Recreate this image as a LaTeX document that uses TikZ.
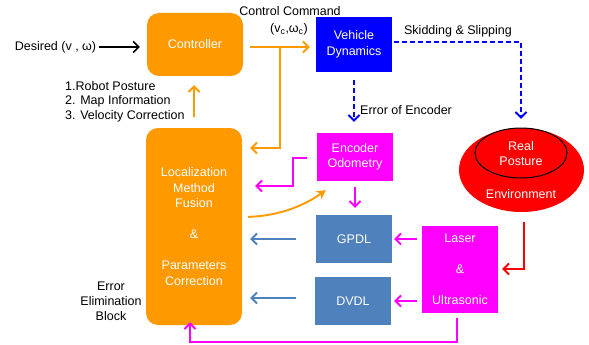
\documentclass[tikz,border=0pt]{standalone}
\usepackage{fontspec}
\setmainfont{Liberation Sans}
\usetikzlibrary{arrows.meta,shapes.geometric}
\definecolor{myorange}{RGB}{255,153,0}
\definecolor{myblue}{RGB}{0,0,255}
\definecolor{mymag}{RGB}{255,0,255}
\definecolor{mysteel}{RGB}{79,129,189}
\definecolor{myred}{RGB}{255,0,0}
\begin{document}
\begin{tikzpicture}[x=1pt,y=-1pt,
  txt/.style={font=\fontsize{12.5}{15.5}\selectfont, align=center, inner sep=0pt},
  box/.style={txt, text=white, minimum width=76pt, minimum height=48pt},
  rbox/.style={box, fill=myorange, rounded corners=12pt, minimum width=96pt},
  arr/.style={-{Straight Barb[length=5.5pt,width=11pt]}, line width=1.9pt},
  dsh/.style={dash pattern=on 5pt off 3pt}
  ]
\useasboundingbox (0,0) rectangle (589,345);

% boxes
\node[rbox, minimum height=63pt] (ctrl) at (195,44.5) {Controller};
\node[box, fill=myblue, minimum height=55pt] (vd) at (354,44.5) {Vehicle\\Dynamics};
\node[box, fill=mymag] (enc) at (355,157) {Encoder\\Odometry};
\node[box, fill=mysteel] (gpdl) at (354,239) {GPDL};
\node[box, fill=mysteel] (dvdl) at (353,301) {DVDL};
\node[box, fill=mymag, minimum height=87pt] (laser) at (460,269.5) {Laser\\ \mbox{}\\ \&\\ \mbox{}\\ Ultrasonic};
\node[rbox, minimum height=197pt] (loc) at (194,226.5) {Localization\\Method\\Fusion\\ \mbox{}\\ \&\\ \mbox{}\\Parameters\\Correction};

% environment
\node[ellipse, fill=myred, minimum width=125pt, minimum height=84pt, inner sep=0pt] (env) at (521.5,170) {};
\node[ellipse, draw=black, line width=1pt, minimum width=92pt, minimum height=50pt, inner sep=0pt] (rp) at (521,153) {};
\node[txt, text=white] (rptxt) at (521,153.5) {Real\\Posture};
\node[txt, text=white] (envtxt) at (521,194) {Environment};

% labels
\node[txt] (desired) at (55.5,47) {Desired (v , ω)};
\node[txt] (cc) at (290,11) {Control Command};
\node[txt] (vw) at (289,29) {(v\textsubscript{c},ω\textsubscript{c})};
\node[txt] (skid) at (458,31) {Skidding \& Slipping};
\node[txt, anchor=west] (eoe) at (360,110) {Error of Encoder};
\node[txt, font=\fontsize{12.5}{14.5}\selectfont, align=left, anchor=west] (info) at (65,101.5) {1.Robot Posture\\2. Map Information\\3. Velocity Correction};
\node[txt, font=\fontsize{12.5}{15}\selectfont] (eeb) at (111,301) {Error\\Elimination\\Block};

% coordinates
\coordinate (c1) at (280,47);
\coordinate (c2) at (280,148);
\coordinate (s1) at (521,42);
\coordinate (e1) at (293,158);
\coordinate (e2) at (293,186);
\coordinate (r1) at (524,269);
\coordinate (m1) at (457,342);
\coordinate (m2) at (190,342);
\coordinate (o1) at (248,217);
\coordinate (d1) at (300,298);

% connectors
\draw[arr, black, line width=1.6pt, shorten <=3pt, shorten >=7pt] (desired.east) -- (desired.east -| ctrl.west);
\draw[arr, myorange, shorten <=7pt, shorten >=6pt] (ctrl.east |- c1) -- (vd.west |- c1);
\draw[arr, myorange, shorten >=8pt] (c1) -- (c2) -- (loc.east |- c2);
\draw[arr, myorange, shorten <=11pt, shorten >=9pt] (loc.north) -- (loc.north |- ctrl.south);
\draw[arr, myblue, dsh, shorten <=2pt, shorten >=9pt] (vd.east |- s1) -- (s1) -- (env.north -| s1);
\draw[arr, myblue, dsh, shorten <=8pt, shorten >=11pt] (vd.south) -- (vd.south |- enc.north);
\draw[arr, mymag, shorten <=6pt, shorten >=7pt] (enc.south) -- (enc.south |- gpdl.north);
\draw[arr, mymag, shorten <=5pt, shorten >=2pt] (laser.west |- gpdl.east) -- (gpdl.east);
\draw[arr, mymag, shorten <=5pt, shorten >=3pt] (laser.west |- dvdl.east) -- (dvdl.east);
\draw[arr, mysteel, shorten <=20pt, shorten >=8pt] (gpdl.west) -- (loc.east |- gpdl.west);
\draw[arr, mysteel, shorten <=19pt, shorten >=8pt] (dvdl.west |- d1) -- (loc.east |- d1);
\draw[arr, myred, shorten <=10pt, shorten >=4pt] (env.south -| r1) -- (r1) -- (laser.east |- r1);
\draw[arr, mymag, shorten <=5pt, shorten >=-3pt] (laser.south -| m1) -- (m1) -- (m2) -- (loc.south -| m2);
\draw[arr, mymag, shorten <=10pt, shorten >=13pt] (enc.west |- e1) -- (e1) -- (e2) -- (loc.east |- e2);
\draw[myorange, line width=1.9pt, -{Stealth[length=9pt,width=10pt]}, shorten <=6pt] (loc.east |- o1) .. controls (280,216) and (305,205) .. ([shift={(9pt,-9pt)}]enc.south west);
\end{tikzpicture}
\end{document}
